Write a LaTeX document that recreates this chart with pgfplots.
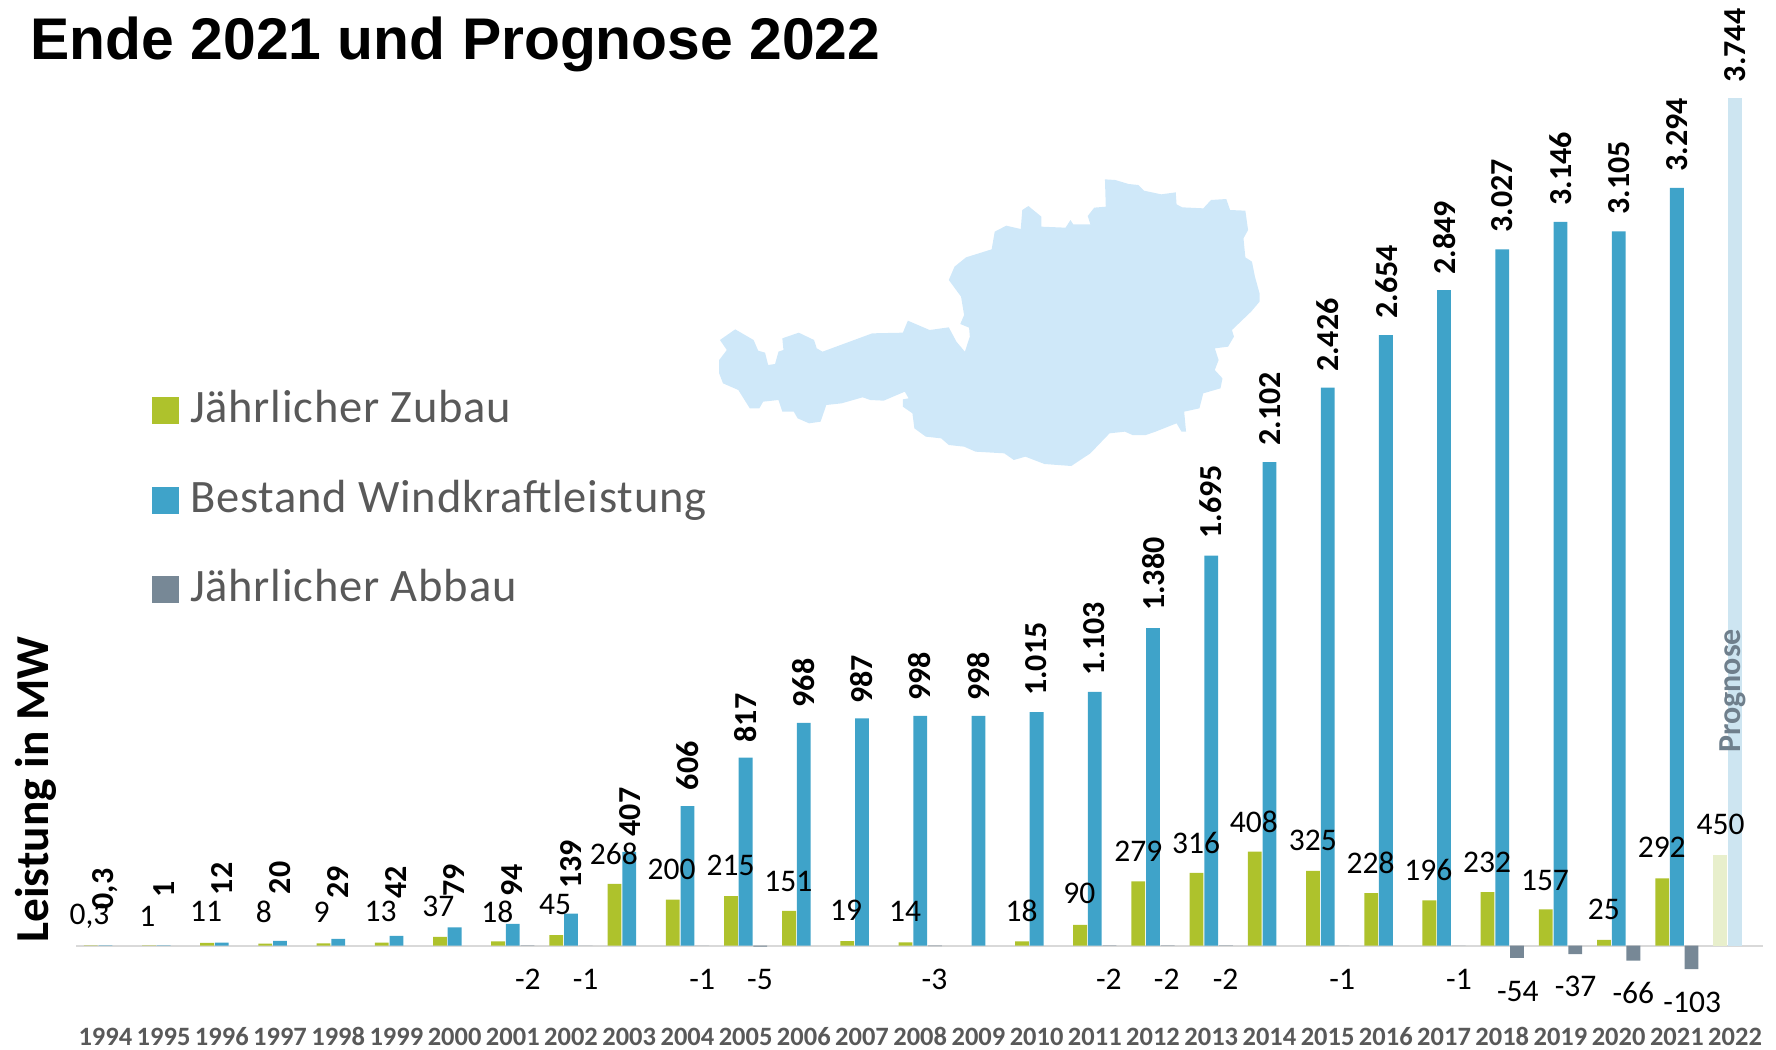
\documentclass[border=0pt]{standalone}
\usepackage{pgfplots}
\usepackage{pgfplotstable}
\usepackage{fontspec}
\pgfplotsset{compat=1.18}
\setmainfont{Carlito}
\newfontfamily\titlefont{Liberation Sans}
\newfontfamily\legfont[LetterSpace=1.7]{Carlito}
\definecolor{cgreen}{HTML}{AEC22C}
\definecolor{cblue}{HTML}{3FA3C9}
\definecolor{cgray}{HTML}{778896}
\definecolor{clgreen}{HTML}{E8EFCC}
\definecolor{clblue}{HTML}{CDE5F1}
\definecolor{cmap}{HTML}{CFE8F9}
\definecolor{ctext}{HTML}{595959}
\definecolor{cprog}{HTML}{6F7F8C}
\pgfplotsset{
  table/pxpos/.style={x expr=(\thisrow{px}*1.13265-105.4)/58.2, y expr=(945.5-\thisrow{py}*1.13265)/0.23},
  labelplot/.style={forget plot, draw=none, mark=none, nodes near coords, point meta=explicit symbolic,
    nodes near coords style={anchor=center, text=black, inner sep=0pt, #1}},
  barplot/.style={ybar, bar width=13.8pt, draw=none},
}
\begin{document}
\begin{tikzpicture}
\path[use as bounding box] (0,0) rectangle (1776pt,1049pt);
\begin{axis}[
  at={(0pt,0pt)}, anchor=south west, scale only axis,
  width=1776pt, height=1049pt,
  xmin=-1.811, xmax=28.704, ymin=-450, ymax=4110.9,
  axis x line*=bottom, axis y line*=left, axis line style={draw=none},
  clip=false,
  ytick=\empty,
  xtick={0,...,28},
  xticklabels={1994,1995,1996,1997,1998,1999,2000,2001,2002,2003,2004,2005,2006,2007,2008,2009,2010,2011,2012,2013,2014,2015,2016,2017,2018,2019,2020,2021,2022},
  major tick length=0pt,
  xticklabel style={anchor=base, yshift=3.5pt, text=ctext, font=\fontsize{26.5}{26.5}\selectfont\bfseries},
  title={Ende 2021 und Prognose 2022},
  every axis title/.style={at={(rel axis cs:0.0172,0.9575)}, anchor=west, inner sep=0pt, font=\fontsize{58.8}{58.8}\titlefont\bfseries},
  ylabel={Leistung in MW},
  every axis y label/.style={at={(rel axis cs:0.0203,0.2474)}, rotate=90, anchor=center, inner sep=0pt, font=\fontsize{47.3}{47.3}\selectfont\bfseries},
  legend image code/.code={\path[draw=none,fill=none] (0pt,-24pt) rectangle (27pt,24pt); \fill[#1] (0pt,-17pt) rectangle (27pt,10pt);},
  legend cell align=left,
  legend style={at={(rel axis cs:0.0856,0.6345)}, anchor=north west, draw=none, fill=none, inner sep=0pt, outer sep=0pt,
    row sep=41.5pt, text=ctext, font=\fontsize{46.5}{46.5}\legfont,
    nodes={inner sep=0pt, outer sep=0pt}, /tikz/column sep=11pt},
]
% Austria outline (decorative silhouette)
\addplot[forget plot, fill=cmap, draw=none] table[x expr=(700+\thisrow{zx}/2.613-105.4)/58.2, y expr=(945.5-160-\thisrow{zy}/3)/0.23] {
zx zy
50 600
70 570
52 540
92 508
140 540
152 572
170 578
178 615
196 612
205 575
218 570
215 535
258 518
298 540
305 565
320 575
450 520
530 518
543 482
600 510
650 502
670 545
692 575
705 530
703 503
680 492
690 465
682 410
650 360
665 320
695 292
762 268
770 215
800 197
838 207
842 150
858 138
892 170
892 200
955 203
968 180
975 193
1020 193
1013 168
1030 143
1060 140
1058 58
1085 60
1120 72
1145 75
1160 92
1205 103
1243 97
1245 133
1260 142
1315 145
1335 120
1375 117
1385 150
1425 152
1432 210
1420 235
1425 292
1442 305
1450 350
1462 400
1462 425
1440 455
1390 510
1395 530
1380 560
1345 565
1355 600
1345 630
1365 655
1360 685
1330 695
1315 700
1305 745
1265 755
1270 815
1258 815
1245 790
1190 815
1165 825
1130 825
1110 815
1070 820
1020 880
970 918
900 912
850 890
820 900
795 880
720 875
690 860
650 855
630 835
590 830
560 805
555 760
530 740
530 718
545 715
535 695
480 722
445 720
425 712
370 730
330 735
315 785
285 790
255 775
245 755
215 755
205 720
165 725
155 745
130 745
100 690
60 670
50 640
};
% baseline
\addplot[forget plot, draw=black!15, line width=2pt] coordinates {(-0.505,0) (28.48,0)};
% Jaehrlicher Zubau
\addplot[barplot, bar shift=-14.7pt, fill=cgreen] coordinates {
(0,0.3) (1,1) (2,11) (3,8) (4,9) (5,13) (6,37) (7,18) (8,45) (9,268) (10,200) (11,215) (12,151) (13,19) (14,14) (16,18) (17,90) (18,279) (19,316) (20,408) (21,325) (22,228) (23,196) (24,232) (25,157) (26,25) (27,292)};
\addlegendentry{Jährlicher Zubau}
% Bestand
\addplot[barplot, bar shift=0pt, fill=cblue] coordinates {
(0,0.3) (1,1) (2,12) (3,20) (4,29) (5,42) (6,79) (7,94) (8,139) (9,407) (10,606) (11,817) (12,968) (13,987) (14,998) (15,998) (16,1015) (17,1103) (18,1380) (19,1695) (20,2102) (21,2426) (22,2654) (23,2849) (24,3027) (25,3146) (26,3105) (27,3294)};
\addlegendentry{Bestand Windkraftleistung}
% Abbau
\addplot[barplot, bar shift=14.7pt, fill=cgray] coordinates {
(7,-2) (8,-1) (10,-1) (11,-5) (14,-3) (17,-2) (18,-2) (19,-2) (21,-1) (23,-1) (24,-54) (25,-37) (26,-66) (27,-103)};
\addlegendentry{Jährlicher Abbau}
% Prognose 2022: bar heights as drawn in the reference (labelled 450 and 3.744)
\addplot[forget plot, barplot, bar shift=-14.7pt, fill=clgreen] coordinates {(28,393)};
\addplot[forget plot, barplot, bar shift=0pt, fill=clblue] coordinates {(28,3685)};
% labels: Zubau
\addplot[labelplot={font=\fontsize{31.5}{31.5}\selectfont}] table[pxpos, meta=lab] {
px py lab
79 809 0,3
130 809 1
182 805 11
233 805 8
284 805 9
336 805 13
387 800 37
439 805 18
490 799 45
542 754 268
593 768 200
645 764 215
696 778 151
747 804 19
799 805 14
902 804 18
953 789 90
1005 752 279
1056 744 316
1107 726 408
1159 742 325
1210 762 228
1261 768 196
1313 761 232
1364 777 157
1416 803 25
1467 748 292
1519 728 450
466 865 -2
517 865 -1
620 865 -1
671 865 -5
825 865 -3
979 865 -2
1030 865 -2
1082 865 -2
1185 865 -1
1288 865 -1
1340 875 -54
1391 871 -37
1442 877 -66
1494 885 -103
};
% labels: Bestand
\addplot[labelplot={rotate=90, font=\fontsize{32}{32}\selectfont\bfseries}] table[pxpos, meta=lab] {
px py lab
93 785 0,3
145 785 1
196 776 12
247 775 20
298 779 29
350 779 42
401 777 79
452 777 94
504 763 139
556 717 407
607 676 606
658 634 817
709 603 968
761 600 987
812 597 998
864 597 998
915 582 1.015
966 564 1.103
1018 507 1.380
1069 443 1.695
1121 361 2.102
1172 296 2.426
1224 249 2.654
1275 210 2.849
1326 173 3.027
1378 149 3.146
1429 157 3.105
1481 119 3.294
1532 40 3.744
};
% Prognose
\node[rotate=90, anchor=center, text=cprog, inner sep=0pt, font=\fontsize{32}{32}\selectfont\bfseries] at (axis cs:{(1530*1.13265-105.4)/58.2},{(945.5-610*1.13265)/0.23}) {Prognose};
\end{axis}
\end{tikzpicture}
\end{document}
